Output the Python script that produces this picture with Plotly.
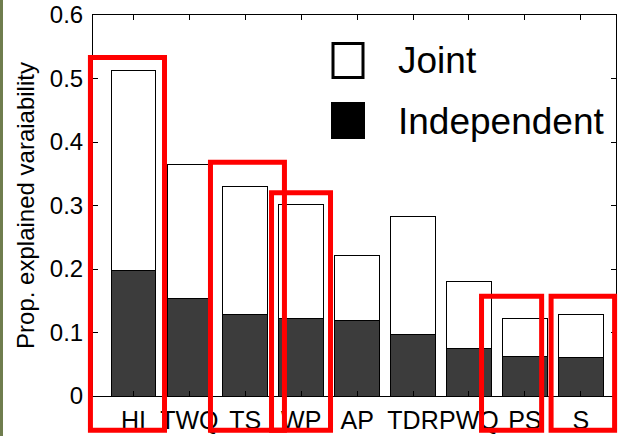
import plotly.graph_objects as go

categories = ["HI", "TWQ", "TS", "WP", "AP", "TDR", "PWQ", "PS", "S"]
independent = [0.197, 0.153, 0.128, 0.122, 0.119, 0.097, 0.075, 0.063, 0.060]
total = [0.512, 0.364, 0.330, 0.301, 0.221, 0.283, 0.181, 0.122, 0.128]
joint = [round(t - i, 3) for t, i in zip(total, independent)]
y_ticks = [0, 0.1, 0.2, 0.3, 0.4, 0.5, 0.6]

# highlighted groups (red boxes): (left, right, top) in axis units
highlights = [(-0.77, 0.555, 0.533), (1.377, 2.70, 0.368), (2.469, 3.524, 0.320),
              (6.225, 7.30, 0.157), (7.469, 8.605, 0.157)]
box_bottom = -0.054

XR = [-0.724, 8.63]
YR = [0, 0.6]
xs = list(range(len(categories)))

def dx(v):
    return (v - XR[0]) / (XR[1] - XR[0])

def dy(v):
    return (v - YR[0]) / (YR[1] - YR[0])

FONT = "Liberation Sans, Arial, sans-serif"

fig = go.Figure()
fig.add_trace(go.Bar(x=xs, y=independent, name="Independent", width=0.8,
                     marker=dict(color="#3c3c3c", line=dict(color="black", width=1))))
fig.add_trace(go.Bar(x=xs, y=joint, name="Joint", width=0.8,
                     marker=dict(color="white", line=dict(color="black", width=1))))

shapes = []
for l, r, t in highlights:
    shapes.append(dict(type="rect", xref="x domain", yref="y domain",
                       x0=dx(l), x1=dx(r), y0=dy(box_bottom), y1=dy(t),
                       line=dict(color="#ff0000", width=5), fillcolor="rgba(0,0,0,0)",
                       layer="above"))
# legend squares
shapes.append(dict(type="rect", xref="paper", yref="paper",
                   x0=(333 - 93) / 523, x1=(363 - 93) / 523,
                   y0=(396 - 77.5) / 381, y1=(396 - 43.5) / 381,
                   line=dict(color="black", width=3), fillcolor="white"))
shapes.append(dict(type="rect", xref="paper", yref="paper",
                   x0=(331 - 93) / 523, x1=(365 - 93) / 523,
                   y0=(396 - 139) / 381, y1=(396 - 102) / 381,
                   line=dict(color="black", width=0), fillcolor="black"))
# green strip at left edge of the photo
shapes.append(dict(type="rect", xref="paper", yref="paper",
                   x0=-93 / 523, x1=(3 - 93) / 523, y0=-40 / 381, y1=421 / 381,
                   line=dict(width=0), fillcolor="#6f7d4e", layer="below"))

annotations = [
    dict(text="Joint", xref="paper", yref="paper", x=(396 - 93) / 523, y=(396 - 61) / 381,
         xanchor="left", yanchor="middle", showarrow=False,
         font=dict(family=FONT, size=37, color="black")),
    dict(text="Independent", xref="paper", yref="paper", x=(396 - 93) / 523, y=(396 - 121) / 381,
         xanchor="left", yanchor="middle", showarrow=False,
         font=dict(family=FONT, size=37, color="black")),
]

fig.update_layout(
    width=618, height=436,
    margin=dict(l=93, r=2, t=15, b=40),
    barmode="stack", bargap=0.2, showlegend=False,
    plot_bgcolor="white", paper_bgcolor="white",
    font=dict(family=FONT, color="black"),
    shapes=shapes, annotations=annotations,
    xaxis=dict(range=XR, tickvals=xs, ticktext=categories, ticks="inside", ticklen=5,
               tickcolor="black", showline=True, linecolor="black", linewidth=1,
               mirror="ticks", showgrid=False, zeroline=False, tickangle=0,
               automargin=False, ticklabelstandoff=2,
               tickfont=dict(size=25, family=FONT)),
    yaxis=dict(range=YR, tickvals=y_ticks, ticktext=["0", "0.1", "0.2", "0.3", "0.4", "0.5", "0.6"],
               ticks="inside", ticklen=5, tickcolor="black", showline=True, linecolor="black",
               linewidth=1, mirror="ticks", showgrid=False, zeroline=False,
               automargin=False, ticklabelstandoff=4,
               tickfont=dict(size=24, family=FONT),
               title=dict(text="Prop. explained varaiability", font=dict(size=24, family=FONT),
                          standoff=8)),
)

fig.write_html("out.html", config={"displayModeBar": False},
               post_script="document.body.style.margin='0';document.body.style.overflow='hidden';")
